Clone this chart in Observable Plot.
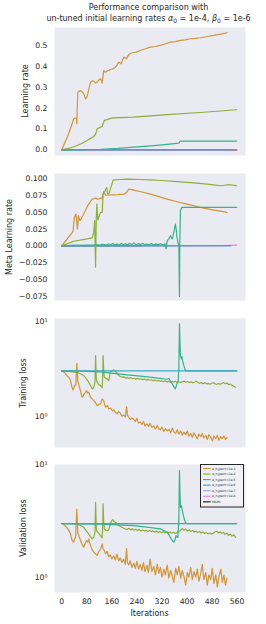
<!DOCTYPE html>
<html><head><meta charset="utf-8">
<script src="https://cdn.jsdelivr.net/npm/d3@7"></script>
<script src="https://cdn.jsdelivr.net/npm/@observablehq/plot@0.6"></script>
<style>
html,body{margin:0;padding:0;background:#fff;overflow:hidden;}
#chart{position:relative;width:266px;height:624px;font-family:"DejaVu Sans",sans-serif;color:#262626;}
.title{position:absolute;transform:translate(-50%,-50%);font-size:8px;line-height:1;white-space:nowrap;}
.ylab{position:absolute;font-size:8px;line-height:1;white-space:nowrap;transform:translate(-50%,-50%) rotate(-90deg);}
sub{font-size:6px;vertical-align:-1.5px;line-height:0;}
</style></head><body><div id="chart"></div><script>
// ---------------- data ----------------
const seriesNames = ["α_hyperlr=1e-3","α_hyperlr=1e-4","α_hyperlr=1e-5","α_hyperlr=1e-6","α_hyperlr=1e-7","α_hyperlr=1e-8","MAML"];
const seriesColors = ["#d0963a","#8fae3a","#35b38b","#38aac2","#9fa6f4","#f27ae2","#262626"];
const iterTicks = [0,80,160,240,320,400,480,560];
const lrTicks = [0,0.1,0.2,0.3,0.4,0.5];
const metaTicks = [-0.075,-0.05,-0.025,0,0.025,0.05,0.075,0.1];
const lossTicks = [1,10];

// Learning rate
const lr_1e3 = [[0,0],[8,0.028],[15,0.052],[22,0.077],[30,0.112],[38,0.149],[43,0.152],[47,0.153],[48,0.125],[51,0.276],[55,0.280],[60,0.284],[64,0.279],[68,0.273],[72,0.262],[76,0.244],[80,0.252],[83,0.268],[88,0.300],[92,0.324],[97,0.330],[102,0.329],[108,0.320],[113,0.324],[118,0.334],[124,0.340],[127,0.330],[129,0.319],[131,0.342],[134,0.380],[137,0.374],[140,0.372],[145,0.378],[150,0.380],[157,0.386],[164,0.388],[171,0.396],[176,0.404],[182,0.420],[186,0.416],[190,0.412],[194,0.430],[198,0.444],[203,0.440],[207,0.436],[212,0.452],[218,0.460],[225,0.465],[238,0.468],[251,0.476],[267,0.484],[283,0.492],[299,0.495],[315,0.500],[331,0.508],[347,0.516],[363,0.518],[379,0.524],[395,0.527],[411,0.532],[427,0.534],[443,0.537],[465,0.543],[486,0.548],[507,0.554],[528,0.561]];
const lr_1e4 = [[0,0],[25,0.008],[49,0.021],[65,0.032],[81,0.045],[92,0.055],[102,0.064],[106,0.070],[110,0.085],[113,0.100],[118,0.105],[124,0.109],[129,0.112],[132,0.125],[136,0.141],[145,0.145],[161,0.153],[230,0.157],[337,0.169],[443,0.179],[559,0.192]];
const lr_1e5 = [[0,0],[60,0.001],[124,0.003],[180,0.007],[230,0.013],[285,0.019],[337,0.026],[374,0.032],[377,0.040],[380,0.042],[559,0.042]];
const lr_1e6 = [[0,0],[100,0.0005],[300,0.001],[540,0.0015]];
const lr_1e7 = [[0,0],[540,0.0003]];
const lr_1e8 = [[0,0],[559,0.0005]];
const lr_maml = [[0,0],[559,0]];

// Meta learning rate
const mlr_1e3 = [[0,0],[20,0.012],[36,0.0216],[40,0.0423],[45,0.0473],[47,0.040],[50,0.025],[53,0.0448],[58,0.0374],[64,0.042],[70,0.0473],[78,0.055],[86,0.062],[92,0.066],[97,0.0694],[102,0.070],[108,0.0709],[115,0.0694],[120,0.070],[124,0.0709],[129,0.0704],[134,0.0808],[140,0.0753],[150,0.0755],[161,0.0758],[180,0.0762],[198,0.0768],[207,0.0793],[214,0.0842],[222,0.0835],[230,0.0827],[256,0.080],[283,0.0768],[310,0.073],[337,0.0694],[368,0.0655],[400,0.0620],[420,0.0598],[443,0.0571],[465,0.055],[486,0.0532],[507,0.0515],[528,0.0497]];
const mlr_1e4 = [[0,0],[38,0.0069],[81,0.0103],[97,0.0118],[102,0.0201],[105,0.0374],[108,-0.0316],[110,0.0398],[112,0.062],[115,0.0384],[120,0.045],[124,0.0497],[129,0.0497],[132,0.0768],[136,0.0793],[143,0.0867],[147,0.0768],[151,0.078],[155,0.0842],[159,0.090],[163,0.0965],[166,0.098],[187,0.0985],[209,0.099],[250,0.0985],[283,0.098],[320,0.097],[358,0.0956],[400,0.0941],[430,0.093],[464,0.0916],[485,0.0905],[507,0.0892],[518,0.0900],[528,0.0906],[540,0.0905],[559,0.0892]];
const mlr_1e5 = [[0,0],[20,0.0005],[40,0.001],[60,0.0008],[80,0.0012],[100,0.001],[110,0.0018],[120,0.0012],[130,0.0022],[140,0.0014],[150,0.0028],[156,0.0016],[163,0.0034],[170,0.0015],[176,0.0026],[184,0.0013],[190,0.0036],[197,0.0017],[204,0.0031],[210,0.0014],[217,0.0039],[224,0.0018],[230,0.0045],[237,0.0016],[244,0.0033],[251,0.0019],[258,0.0038],[265,0.0015],[272,0.0029],[279,0.0017],[286,0.0034],[293,0.0014],[300,0.0027],[308,0.0018],[316,0.0031],[323,0.0016],[330,0.003],[333,-0.0044],[337,0.0079],[342,0.0103],[347,0.0152],[353,0.0103],[358,0.0201],[363,0.0325],[366,0.0226],[368,0.0127],[372,0.003],[374,0.003],[376,-0.075],[377,0.0005],[379,0.0522],[381,0.0546],[384,0.0571],[559,0.0571]];
const mlr_1e6 = [[0,0],[540,0.0003]];
const mlr_1e7 = [[0,0],[540,0.0002]];
const mlr_1e8 = [[0,0],[520,0.0005],[559,0.0012]];
const mlr_maml = [[0,0],[255,0]];

// Training loss
const tl_1e3 = [[0,3.0],[8,2.9],[17,2.68],[23,2.55],[28,2.37],[33,1.99],[36,1.89],[40,2.05],[45,2.19],[48,3.61],[51,2.37],[55,2.1],[58,1.94],[62,1.72],[65,1.58],[69,1.66],[72,1.72],[76,1.80],[79,1.86],[83,1.75],[86,1.79],[89,1.68],[92,1.58],[97,1.52],[102,1.46],[107,1.40],[113,1.29],[118,1.33],[124,1.35],[129,1.52],[134,1.46],[137,1.32],[140,1.24],[146,1.30],[150,1.19],[156,1.22],[161,1.14],[166,1.17],[171,1.10],[177,1.06],[182,1.12],[187,1.08],[192,1.00],[198,1.03],[203,0.98],[207,1.26],[210,1.02],[214,0.97],[219,0.92],[224,0.96],[230,0.93],[235,0.88],[240,0.95],[245,0.85],[251,0.87],[256,0.82],[261,0.88],[266,0.79],[272,0.83],[277,0.78],[282,0.84],[288,0.76],[294,0.79],[299,0.73],[305,0.80],[310,0.74],[315,0.72],[320,0.77],[326,0.69],[331,0.74],[337,0.70],[342,0.73],[348,0.67],[353,0.75],[358,0.69],[364,0.66],[369,0.72],[374,0.65],[380,0.70],[385,0.63],[390,0.68],[396,0.64],[401,0.70],[406,0.62],[412,0.66],[417,0.60],[422,0.67],[428,0.62],[433,0.58],[438,0.65],[444,0.61],[449,0.66],[454,0.59],[460,0.63],[465,0.57],[470,0.64],[476,0.60],[481,0.55],[486,0.62],[492,0.58],[497,0.63],[502,0.56],[508,0.61],[513,0.58],[518,0.62],[523,0.57],[528,0.60]];
const tl_1e4 = [[0,3.0],[20,2.97],[49,2.90],[60,2.80],[70,2.68],[78,2.50],[86,2.28],[92,2.10],[97,1.94],[102,1.99],[106,2.3],[108,4.35],[110,2.6],[111,2.37],[118,2.15],[124,2.10],[129,1.99],[131,2.8],[132,4.35],[134,3.0],[136,2.57],[140,2.50],[145,2.47],[150,2.37],[155,2.90],[161,3.02],[166,3.07],[171,2.98],[176,2.85],[181,2.72],[187,2.62],[192,2.58],[198,2.60],[203,2.52],[209,2.55],[215,2.50],[220,2.54],[226,2.48],[231,2.51],[237,2.46],[242,2.50],[248,2.45],[253,2.48],[259,2.43],[264,2.46],[270,2.40],[275,2.44],[281,2.39],[286,2.42],[292,2.36],[297,2.40],[303,2.35],[308,2.38],[314,2.33],[319,2.36],[325,2.31],[330,2.35],[336,2.30],[341,2.33],[347,2.28],[352,2.32],[358,2.29],[363,2.33],[369,2.27],[374,2.31],[380,2.26],[385,2.30],[391,2.34],[396,2.28],[402,2.32],[407,2.26],[413,2.30],[418,2.24],[424,2.28],[429,2.33],[435,2.27],[440,2.22],[446,2.26],[451,2.20],[457,2.25],[462,2.19],[468,2.22],[473,2.17],[479,2.21],[484,2.25],[490,2.19],[495,2.16],[501,2.21],[506,2.17],[512,2.22],[517,2.26],[523,2.19],[528,2.24],[534,2.14],[539,2.18],[545,2.10],[550,2.06],[555,2.02]];
const tl_1e5 = [[0,3.0],[60,2.98],[124,2.93],[166,2.82],[209,2.72],[251,2.64],[294,2.55],[337,2.45],[342,2.50],[348,2.32],[353,2.19],[358,2.05],[363,1.94],[368,2.19],[372,2.37],[374,3.2],[376,9.38],[378,5.5],[379,4.35],[382,4.01],[384,4.25],[387,3.7],[390,3.41],[395,3.03],[400,3.0],[559,3.0]];
const tl_1e6 = [[0,3.0],[559,3.0]];

// Validation loss
const vl_1e3 = [[0,3.0],[8,2.92],[17,2.74],[23,2.6],[28,2.42],[33,2.12],[38,2.05],[41,2.2],[44,2.26],[48,4.04],[51,2.51],[55,2.3],[60,2.12],[65,1.95],[70,1.85],[75,2.0],[79,2.12],[83,2.05],[86,2.19],[89,2.02],[92,1.91],[97,1.75],[102,1.67],[107,1.62],[113,1.56],[118,1.68],[124,1.78],[129,1.98],[132,1.80],[136,1.72],[140,1.62],[145,1.70],[150,1.52],[155,1.58],[160,1.45],[166,1.55],[171,1.42],[176,1.60],[182,1.40],[187,1.48],[192,1.35],[198,1.45],[203,1.30],[207,1.80],[210,1.35],[214,1.28],[219,1.40],[224,1.22],[230,1.33],[235,1.20],[240,1.38],[245,1.18],[251,1.30],[256,1.15],[261,1.35],[266,1.12],[272,1.28],[277,1.10],[282,1.45],[288,1.12],[294,1.25],[299,1.05],[305,1.30],[310,1.08],[315,1.22],[320,1.00],[326,1.18],[331,1.05],[337,1.28],[342,0.98],[348,1.15],[353,1.02],[358,0.90],[364,1.20],[369,1.05],[374,1.25],[380,0.98],[385,1.15],[390,1.02],[396,0.85],[401,1.10],[406,1.00],[412,1.22],[417,0.95],[422,1.12],[428,1.00],[433,1.18],[438,0.92],[444,1.08],[449,1.30],[454,0.95],[460,1.10],[465,0.85],[470,1.05],[476,0.95],[481,1.20],[486,0.88],[492,1.05],[497,0.82],[502,1.00],[508,1.18],[513,0.90],[518,1.05],[523,0.85],[528,0.98]];
const vl_1e4 = [[0,3.0],[20,3.0],[49,2.97],[60,2.88],[70,2.78],[78,2.6],[86,2.42],[92,2.28],[97,2.19],[102,2.26],[106,2.5],[108,4.63],[110,2.9],[111,2.59],[118,2.45],[124,2.34],[129,2.23],[131,3.0],[132,4.48],[134,3.1],[136,2.69],[140,2.62],[145,2.59],[150,2.63],[155,2.97],[159,3.15],[163,3.25],[167,3.12],[171,3.08],[176,3.0],[181,2.90],[187,2.82],[192,2.78],[198,2.72],[203,2.68],[209,2.66],[214,2.72],[220,2.64],[225,2.70],[231,2.62],[236,2.67],[242,2.60],[247,2.65],[253,2.58],[258,2.63],[264,2.57],[269,2.61],[275,2.55],[280,2.60],[286,2.54],[291,2.58],[297,2.52],[302,2.57],[308,2.50],[313,2.55],[319,2.49],[324,2.54],[330,2.48],[335,2.53],[341,2.47],[346,2.52],[352,2.46],[357,2.51],[363,2.45],[368,2.50],[374,2.55],[379,2.60],[385,2.72],[390,2.62],[396,2.68],[401,2.58],[407,2.63],[412,2.55],[418,2.60],[423,2.52],[429,2.57],[434,2.50],[440,2.55],[445,2.47],[451,2.52],[456,2.45],[462,2.49],[467,2.43],[473,2.47],[478,2.41],[484,2.46],[489,2.52],[495,2.56],[500,2.48],[506,2.53],[511,2.45],[517,2.50],[522,2.40],[528,2.46],[533,2.36],[539,2.42],[544,2.32],[550,2.38],[555,2.26]];
const vl_1e5 = [[0,3.0],[124,2.97],[180,2.92],[230,2.87],[283,2.76],[315,2.69],[337,2.51],[347,2.26],[353,2.12],[358,2.05],[361,2.12],[365,2.34],[368,2.28],[371,2.26],[374,3.3],[376,8.85],[378,5.2],[379,4.18],[382,4.33],[384,4.05],[387,3.7],[390,3.41],[395,3.04],[400,3.0],[559,3.0]];
const vl_1e6 = [[0,3.0],[559,3.0]];

// ---------------- drawing ----------------
const chart = document.getElementById("chart");
const xDomain = [-23.3, 587];
const C = i => seriesColors[i];

function lines(list){ // list of [data, seriesIndex] in drawing order
  return list.map(([data, i]) => Plot.line(data, {x: d => d[0], y: d => d[1], stroke: C(i), strokeWidth: 1.2}));
}

function panel({top, height, mt, mb, y, marks, xAxis}){
  const svg = Plot.plot({
    width: 266, height, marginLeft: 54, marginRight: 21, marginTop: mt, marginBottom: mb,
    style: {background: "transparent", fontSize: "7.7px", fontFamily: "DejaVu Sans", color: "#262626", overflow: "visible"},
    x: {domain: xDomain, ticks: iterTicks, tickSize: 0, tickPadding: 6, label: null, axis: xAxis ? "bottom" : null, tickFormat: d3.format("d")},
    y: Object.assign({tickSize: 0, tickPadding: 7, label: null}, y),
    marks: [Plot.frame({fill: "#eaeaf2", stroke: "none"}), ...marks]
  });
  svg.style.position = "absolute";
  svg.style.left = "0px";
  svg.style.top = top + "px";
  chart.appendChild(svg);
}

panel({top: 0, height: 160, mt: 27, mb: 5,
  y: {domain: [-0.027, 0.586], ticks: lrTicks, tickFormat: d3.format(".1f")},
  marks: lines([[lr_maml,6],[lr_1e8,5],[lr_1e7,4],[lr_1e6,3],[lr_1e3,0],[lr_1e4,1],[lr_1e5,2]])});

panel({top: 160, height: 145, mt: 13, mb: 5,
  y: {domain: [-0.081, 0.1074], ticks: metaTicks, tickFormat: d3.format(".3f")},
  marks: lines([[mlr_maml,6],[mlr_1e8,5],[mlr_1e7,4],[mlr_1e6,3],[mlr_1e3,0],[mlr_1e4,1],[mlr_1e5,2]])});

const logFmt = d => d === 1 ? "10⁰" : "10¹";
panel({top: 305, height: 147, mt: 13, mb: 5,
  y: {type: "log", domain: [0.469, 10.67], ticks: lossTicks, tickFormat: logFmt},
  marks: lines([[tl_1e3,0],[tl_1e4,1],[tl_1e5,2],[tl_1e6,3]])});

panel({top: 452, height: 172, mt: 12, mb: 32, xAxis: true,
  y: {type: "log", domain: [0.731, 10.05], ticks: lossTicks, tickFormat: logFmt},
  marks: lines([[vl_1e3,0],[vl_1e4,1],[vl_1e5,2],[vl_1e6,3]])});

// texts
function addDiv(cls, html, x, y){
  const d = document.createElement("div");
  d.className = cls; d.innerHTML = html;
  d.style.left = x + "px"; d.style.top = y + "px";
  chart.appendChild(d);
}
addDiv("title", "Performance comparison with", 148.5, 7.5);
addDiv("title", "un-tuned initial learning rates <i>α</i><sub>0</sub> = 1e-4, <i>β</i><sub>0</sub> = 1e-6", 148.5, 19);
addDiv("ylab", "Learning rate", 26, 91);
addDiv("ylab", "Meta Learning rate", 9.5, 236.5);
addDiv("ylab", "Training loss", 23.5, 382.5);
addDiv("ylab", "Validation loss", 23.5, 528);
addDiv("title", "Iterations", 149.5, 613.5);

// legend
const lg = d3.select(chart).append("svg")
  .style("position", "absolute").style("left", "199.5px").style("top", "463.5px")
  .attr("width", 45).attr("height", 44);
lg.append("rect").attr("x", 0.5).attr("y", 0.5).attr("width", 43).attr("height", 42.5)
  .attr("fill", "#f0f0f5").attr("stroke", "#111").attr("stroke-width", 0.9);
seriesNames.forEach((name, i) => {
  const yy = 4.5 + i * 5.55;
  lg.append("line").attr("x1", 3).attr("x2", 10.5).attr("y1", yy).attr("y2", yy)
    .attr("stroke", seriesColors[i]).attr("stroke-width", 1.2);
  lg.append("text").attr("x", 12).attr("y", yy + 1).text(name)
    .attr("font-size", 3).attr("font-family", "DejaVu Sans").attr("fill", "#262626");
});
</script></body></html>
